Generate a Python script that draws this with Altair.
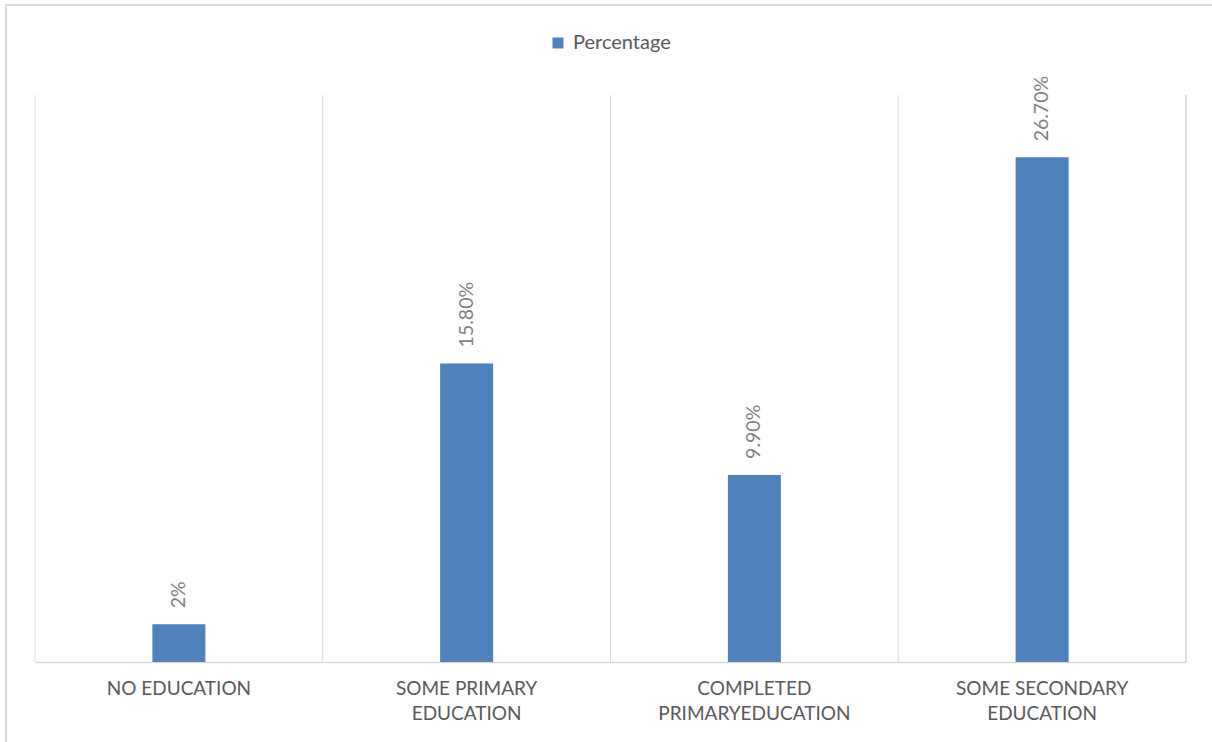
import altair as alt
import pandas as pd

categories = ["NO EDUCATION", "SOME PRIMARY\nEDUCATION", "COMPLETED\nPRIMARYEDUCATION", "SOME SECONDARY\nEDUCATION"]
values = [2.0, 15.8, 9.9, 26.7]
value_labels = ["2%", "15.80%", "9.90%", "26.70%"]
series_name = "Percentage"

df = pd.DataFrame({
    "category": categories,
    "value": values,
    "label": value_labels,
    "series": [series_name] * len(categories),
})

W, H = 1151, 567
FONT = "Lato"
GRID = "#d9d9d9"

x_axis = alt.Axis(
    title=None, labelAngle=0, ticks=False, grid=False,
    domainColor=GRID, domainWidth=1.5,
    labelColor="#595959", labelFont=FONT, labelFontSize=19,
    labelPadding=17, labelLineHeight=25, labelBaseline="top",
    labelLimit=0,
    labelExpr="split(datum.label, '\\n')",
)
x_scale = alt.Scale(paddingInner=0, paddingOuter=0)
y_enc = alt.Y("value:Q", scale=alt.Scale(domain=[0, 30]), axis=None)

base = alt.Chart(df)

sep = base.mark_rule(color=GRID, strokeWidth=1).encode(
    x=alt.X("category:N", sort=categories, scale=x_scale, axis=x_axis, bandPosition=0)
)
right_edge = base.mark_rule(color=GRID, strokeWidth=1).encode(x=alt.value(W))

bars = base.mark_bar(size=53).encode(
    x=alt.X("category:N", sort=categories, scale=x_scale, axis=x_axis),
    y=y_enc,
    color=alt.Color(
        "series:N",
        scale=alt.Scale(range=["#4f81bd"]),
        legend=alt.Legend(
            orient="none", legendX=513, legendY=-62, title=None,
            symbolType="square", symbolSize=121, symbolStrokeWidth=0,
            labelFont=FONT, labelFontSize=20, labelColor="#595959",
            labelOffset=5, padding=0,
        ),
    ),
)

texts = base.mark_text(
    angle=270, align="left", baseline="middle", yOffset=-16,
    font=FONT, fontSize=19.5, color="#7f7f7f",
).encode(
    x=alt.X("category:N", sort=categories, scale=x_scale, axis=x_axis),
    y=y_enc,
    text="label:N",
)

frame = alt.Chart(pd.DataFrame({"f": [0]})).mark_rect(
    fillOpacity=0, stroke=GRID, strokeWidth=2
).encode(
    x=alt.value(-29), y=alt.value(-90), x2=alt.value(1260), y2=alt.value(800)
)

chart = alt.layer(frame, sep, right_edge, bars, texts).properties(
    width=W, height=H,
    autosize="none",
    padding={"left": 35, "top": 95, "right": 26, "bottom": 80},
    background="white",
).configure_view(strokeWidth=0)

chart.save("out.html", embed_options={"renderer": "svg", "actions": False})
